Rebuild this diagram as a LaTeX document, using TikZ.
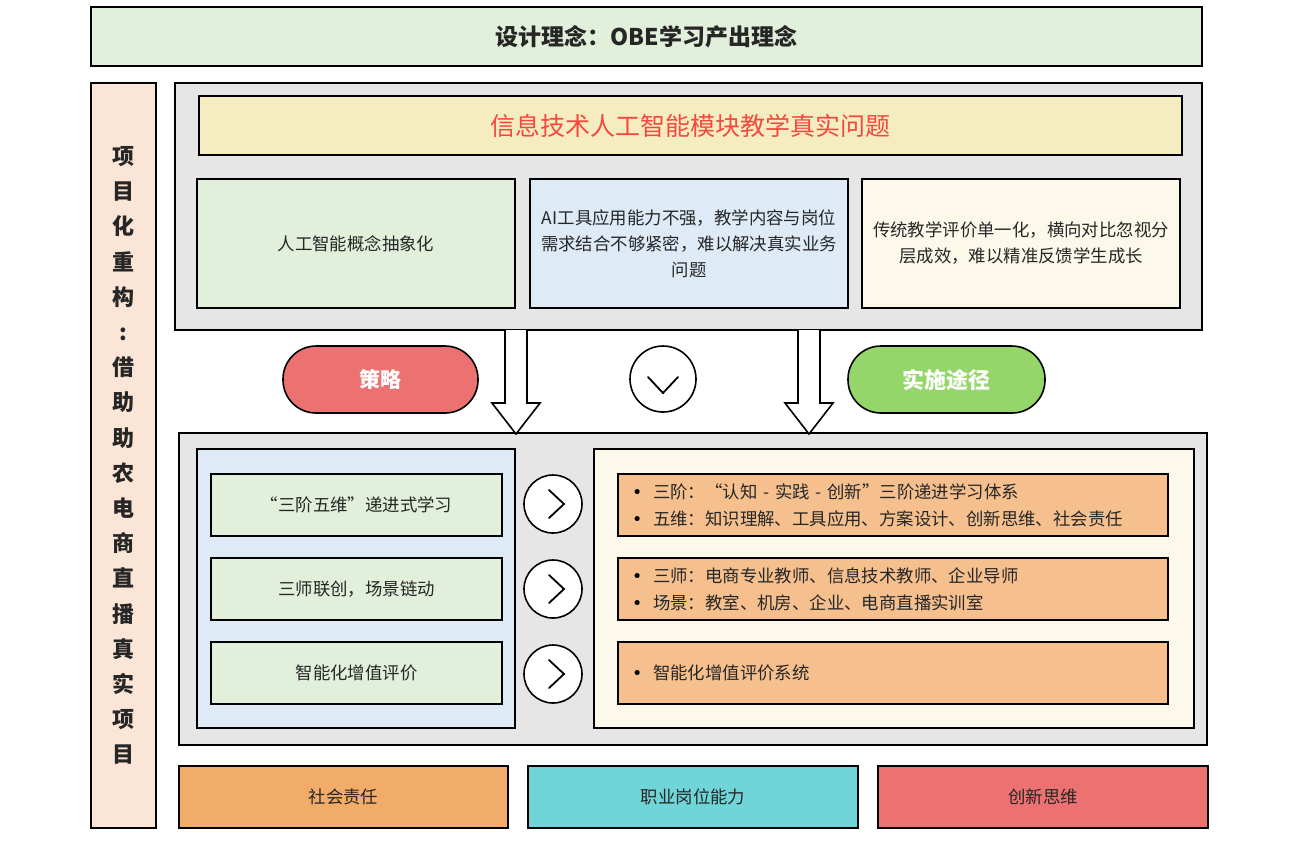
\documentclass[tikz,border=0pt]{standalone}
\usepackage{fontspec}
\setmainfont{Noto Sans CJK SC}
\newfontfamily\symfont{DejaVu Sans}
\usepackage{xcolor}
\usepackage{tikz}
\usetikzlibrary{calc,positioning}
\definecolor{ink}{HTML}{262626}
\definecolor{leaf}{HTML}{E2EFDA}
\definecolor{peach}{HTML}{FBE5D6}
\definecolor{panel}{HTML}{E7E6E6}
\definecolor{straw}{HTML}{F5EDC0}
\definecolor{sky}{HTML}{DEEBF7}
\definecolor{cream}{HTML}{FCF8EA}
\definecolor{apricot}{HTML}{F5C08E}
\definecolor{coral}{HTML}{EC7272}
\definecolor{lime}{HTML}{95D66A}
\definecolor{tan}{HTML}{F2AC6A}
\definecolor{teal}{HTML}{6FD5D8}
\definecolor{alert}{HTML}{F5483F}
\newcommand{\itm}{\makebox[10.5pt][l]{{\symfont\color{black}•}}}

\begin{document}
\begin{tikzpicture}[
  x=0.5pt, y=-0.5pt,
  box/.style={draw=black, line width=0.8pt, inner sep=0pt, outer sep=0pt,
              align=center, text=ink, font=\fontsize{8.7}{13}\selectfont},
  pill/.style={box, rounded corners=16.5pt, minimum width=97.5pt, minimum height=33.5pt,
               text=white, font=\fontsize{10.5}{12}\selectfont\bfseries},
  ring/.style={draw=black, line width=0.8pt, circle, fill=white, inner sep=0pt},
  chev/.style={line width=0.9pt, line cap=round, line join=miter},
  hollow/.style={draw=black, line width=0.8pt, fill=white},
  bul/.style={box, fill=apricot, minimum width=275pt, minimum height=31pt,
              text width=261pt, inner xsep=7pt, align=left,
              font=\fontsize{8.7}{13.5}\selectfont}
]
\useasboundingbox (0,0) rectangle (1299,843);
% top banner and left bar
\node[box, fill=leaf, minimum width=555.5pt, minimum height=29.5pt,
      font=\fontsize{11.5}{12}\selectfont\bfseries] (idea) at (646.5,36.5) {设计理念：OBE学习产出理念};
\node[box, fill=peach, minimum width=32.5pt, minimum height=372.5pt,
      font=\fontsize{11}{17.6}\selectfont\bfseries] (proj) at (123.5,455.5)
  {项\\目\\化\\重\\构\\:\\借\\助\\助\\农\\电\\商\\直\\播\\真\\实\\项\\目};

% problem panel
\node[box, fill=panel, minimum width=513.5pt, minimum height=123.5pt] (panA) at (688.5,206.5) {};
\node[box, fill=straw, minimum width=491.5pt, minimum height=29.5pt, text=alert,
      font=\fontsize{12.5}{14}\selectfont] (prob) at (690.5,125.5) {信息技术人工智能模块教学真实问题};
\node[box, fill=leaf, minimum width=159pt, minimum height=64.5pt] (p1) at (356,243.5) {人工智能概念抽象化};
\node[box, fill=sky, minimum width=159pt, minimum height=64.5pt] (p2) at (689,243.5)
  {AI工具应用能力不强，教学内容与岗位\\需求结合不够紧密，难以解决真实业务\\问题};
\node[box, fill=cream, minimum width=159pt, minimum height=64.5pt] (p3) at (1021,243.5)
  {传统教学评价单一化，横向对比忽视分\\层成效，难以精准反馈学生成长};

% strategy / path row
\node[pill, fill=coral] (strat) at (380.5,379.5) {策略};
\node[pill, fill=lime, minimum width=98.5pt, font=\fontsize{11}{12}\selectfont\bfseries] (path) at (946.5,379.5) {实施途径};
\node[ring, minimum size=33pt] (down) at (663,379) {};
\draw[chev] ($(down.center)+(-15,-2)$) -- ($(down.center)+(0,14)$) -- ($(down.center)+(15,-2)$);

% measures panel
\node[box, fill=panel, minimum width=514pt, minimum height=156pt] (panB) at (693,589) {};
\node[box, fill=sky, minimum width=159pt, minimum height=139.5pt] (left) at (356,588.5) {};
\node[box, fill=cream, minimum width=300pt, minimum height=139.5pt] (right) at (894,588.5) {};

\node[box, fill=leaf, minimum width=145.5pt, minimum height=31pt] (s1) at (356.5,505) {“三阶五维”递进式学习};
\node[box, fill=leaf, minimum width=145.5pt, minimum height=31pt] (s2) at (356.5,589) {三师联创，场景链动};
\node[box, fill=leaf, minimum width=145.5pt, minimum height=31pt] (s3) at (356.5,673) {智能化增值评价};

\node[bul] (r1) at (893,505) {\itm 三阶：“认知 - 实践 - 创新”三阶递进学习体系\\\itm 五维：知识理解、工具应用、方案设计、创新思维、社会责任};
\node[bul] (r2) at (893,589) {\itm 三师：电商专业教师、信息技术教师、企业导师\\\itm 场景：教室、机房、企业、电商直播实训室};
\node[bul] (r3) at (893,673) {\itm 智能化增值评价系统};

\foreach \i/\yy in {1/504,2/589,3/674}{
  \node[ring, minimum size=29pt] (go\i) at (553,\yy) {};
  \draw[chev] ($(go\i.center)+(-4,-14)$) -- ($(go\i.center)+(11,0)$) -- ($(go\i.center)+(-4,14)$);
}

% hollow arrows from the problem panel to the measures panel
\foreach \ax in {516,809}{
  \draw[hollow] (\ax-11,330) -- (\ax-11,403) -- (\ax-24,403) -- (\ax,434)
    -- (\ax+24,403) -- (\ax+11,403) -- (\ax+11,330);
}

% outcomes
\node[box, fill=tan, minimum width=164.5pt, minimum height=31pt] (o1) at (343.5,797) {社会责任};
\node[box, fill=teal, minimum width=165pt, minimum height=31pt] (o2) at (693,797) {职业岗位能力};
\node[box, fill=coral, minimum width=165pt, minimum height=31pt] (o3) at (1043,797) {创新思维};
\end{tikzpicture}
\end{document}
